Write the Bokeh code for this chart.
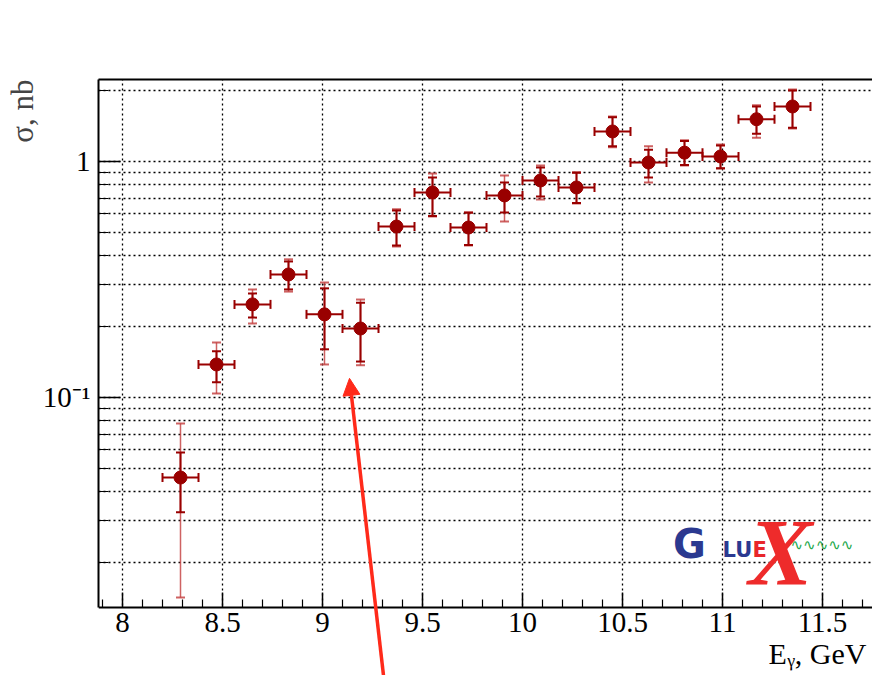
from bokeh.plotting import figure
from bokeh.models import (ColumnDataSource, Whisker, TeeHead, FixedTicker, LinearAxis,
                          Title, Arrow, NormalHead, Label, Range1d, BoxAnnotation)
from bokeh.embed import file_html
from bokeh.resources import INLINE

# ---------------- data ----------------
energy = [8.29, 8.47, 8.65, 8.83, 9.01, 9.19, 9.37, 9.55, 9.73, 9.91,
          10.09, 10.27, 10.45, 10.63, 10.81, 10.99, 11.17, 11.35]
sigma = [0.0458, 0.138, 0.248, 0.332, 0.225, 0.196, 0.530, 0.739, 0.525, 0.718,
         0.831, 0.776, 1.34, 0.99, 1.09, 1.05, 1.51, 1.71]
stat_hi = [0.0585, 0.157, 0.276, 0.377, 0.290, 0.252, 0.620, 0.856, 0.606, 0.815,
           0.943, 0.895, 1.54, 1.12, 1.22, 1.17, 1.71, 2.00]
stat_lo = [0.0326, 0.116, 0.218, 0.287, 0.160, 0.142, 0.440, 0.588, 0.443, 0.608,
           0.711, 0.667, 1.16, 0.856, 0.965, 0.937, 1.31, 1.39]
tot_hi = [0.0776, 0.171, 0.287, 0.385, 0.307, 0.260, 0.628, 0.889, 0.610, 0.872,
          0.962, 0.900, 1.55, 1.16, 1.23, 1.18, 1.73, 2.02]
tot_lo = [0.0142, 0.104, 0.206, 0.281, 0.138, 0.137, 0.436, 0.585, 0.441, 0.557,
          0.690, 0.664, 1.15, 0.815, 0.962, 0.934, 1.26, 1.38]
half_bin = [0.09] * len(energy)

x_tick_values = [8, 8.5, 9, 9.5, 10, 10.5, 11, 11.5]
x_tick_labels = ["8", "8.5", "9", "9.5", "10", "10.5", "11", "11.5"]
x_minor_ticks = [7.9, 8.1, 8.2, 8.3, 8.4, 8.6, 8.7, 8.8, 8.9, 9.1, 9.2, 9.3, 9.4,
                 9.6, 9.7, 9.8, 9.9, 10.1, 10.2, 10.3, 10.4, 10.6, 10.7, 10.8, 10.9,
                 11.1, 11.2, 11.3, 11.4, 11.6, 11.7]
y_tick_values = [0.1, 1]
y_tick_labels = ["10\u207b\u00b9", "1"]
y_minor_ticks = [0.02, 0.03, 0.04, 0.05, 0.06, 0.07, 0.08, 0.09,
                 0.2, 0.3, 0.4, 0.5, 0.6, 0.7, 0.8, 0.9, 2]

# visible axis window
X_MIN, X_MAX = 7.88, 11.75
Y_MIN, Y_MAX = 0.01289, 2.225
Y_CANVAS_BOTTOM = 0.006637   # frame continues below the x axis so the arrow can reach the edge

# annotation arrow (data coordinates)
arrow_tail = (9.305, 0.00664)
arrow_tip = (9.135, 0.1205)

# ---------------- figure ----------------
FONT = "Liberation Serif"
DARK = "#990000"
LIGHT = "#c23b3b"

p = figure(width=872, height=675, output_backend="svg", toolbar_location=None,
           y_axis_type="log", x_range=Range1d(X_MIN, X_MAX),
           y_range=Range1d(Y_CANVAS_BOTTOM, Y_MAX),
           title=None, min_border_left=98, min_border_right=0, min_border_top=79,
           min_border_bottom=0)
p.outline_line_color = None
p.background_fill_color = "white"
p.border_fill_color = "white"

# axes
xa = p.xaxis[0]
xa.fixed_location = Y_MIN
xa.ticker = FixedTicker(ticks=x_tick_values, minor_ticks=x_minor_ticks)
xa.major_label_overrides = {v: l for v, l in zip(x_tick_values, x_tick_labels)}
ya = p.yaxis[0]
ya.ticker = FixedTicker(ticks=y_tick_values, minor_ticks=y_minor_ticks)
ya.major_label_overrides = {v: l for v, l in zip(y_tick_values, y_tick_labels)}
ya.bounds = (Y_MIN, Y_MAX)

for ax in (xa, ya):
    ax.axis_line_color = "black"
    ax.axis_line_width = 2
    ax.major_tick_line_color = "black"
    ax.major_tick_line_width = 1.5
    ax.minor_tick_line_color = "black"
    ax.minor_tick_line_width = 1.2
    ax.major_tick_out = 0
    ax.minor_tick_out = 0
    ax.major_label_text_font = FONT
    ax.major_label_text_font_size = "29px"
    ax.major_label_text_color = "black"
xa.major_tick_in = 15
xa.minor_tick_in = 8
xa.major_label_standoff = 6
ya.major_tick_in = 22
ya.minor_tick_in = 10
ya.major_label_standoff = 8

top = LinearAxis(ticker=FixedTicker(ticks=[]), major_tick_in=0, major_tick_out=0,
                 minor_tick_in=0, minor_tick_out=0, major_label_text_font_size="0px",
                 major_label_standoff=0, axis_line_width=2, axis_line_color="black")
p.add_layout(top, "above")

# grid
p.xgrid.ticker = FixedTicker(ticks=x_tick_values)
p.ygrid.ticker = FixedTicker(ticks=y_tick_values, minor_ticks=y_minor_ticks)
for g in (p.xgrid[0], p.ygrid[0]):
    g.grid_line_color = "black"
    g.grid_line_dash = "2 3"
    g.grid_line_width = 1.3
p.ygrid.minor_grid_line_color = "black"
p.ygrid.minor_grid_line_dash = "2 3"
p.ygrid.minor_grid_line_width = 1.3

# blank area under the x axis (covers the grid there)
p.add_layout(BoxAnnotation(top=Y_MIN, fill_color="white", fill_alpha=1.0,
                           line_alpha=0, level="underlay"))

# titles
p.add_layout(Title(text="\u03c3, nb", align="right", text_font=FONT, text_font_size="31px",
                   text_font_style="normal", standoff=0, offset=0), "left")
p.add_layout(Label(x=11.72, y=0.00823, text="E\u1d67, GeV", text_align="right",
                   text_baseline="alphabetic", text_font=FONT, text_font_size="30px",
                   text_color="black"))

# data
src = ColumnDataSource(dict(
    x=energy, y=sigma, shi=stat_hi, slo=stat_lo, thi=tot_hi, tlo=tot_lo,
    xl=[e - h for e, h in zip(energy, half_bin)],
    xh=[e + h for e, h in zip(energy, half_bin)]))

tot = Whisker(source=src, base="x", upper="thi", lower="tlo", level="underlay",
              line_color=LIGHT, line_width=1.5, line_alpha=0.8,
              upper_head=TeeHead(size=9, line_color=LIGHT, line_width=2, line_alpha=0.8),
              lower_head=TeeHead(size=9, line_color=LIGHT, line_width=2, line_alpha=0.8))
stat = Whisker(source=src, base="x", upper="shi", lower="slo", level="underlay",
               line_color=DARK, line_width=2,
               upper_head=TeeHead(size=9, line_color=DARK, line_width=2),
               lower_head=TeeHead(size=9, line_color=DARK, line_width=2))
horiz = Whisker(source=src, base="y", upper="xh", lower="xl", dimension="width",
                level="underlay", line_color=DARK, line_width=2,
                upper_head=TeeHead(size=9, line_color=DARK, line_width=2),
                lower_head=TeeHead(size=9, line_color=DARK, line_width=2))
p.add_layout(tot)
p.add_layout(stat)
p.add_layout(horiz)
p.scatter("x", "y", source=src, size=13, marker="circle", fill_color=DARK, line_color=DARK)

# arrow
p.add_layout(Arrow(x_start=arrow_tail[0], y_start=arrow_tail[1], x_end=arrow_tip[0],
                   y_end=arrow_tip[1], line_color="#ff2a1a", line_width=3.5,
                   end=NormalHead(size=17, fill_color="#ff2a1a", line_color="#ff2a1a")))

# GlueX logo
p.add_layout(Label(x=10.752, y=0.02383, text="G", text_font="DejaVu Sans", text_font_size="40px",
                   text_font_style="bold", text_color="#2b3990", text_baseline="alphabetic"))
p.add_layout(Label(x=11.0, y=0.02248, text="LU", text_font="DejaVu Sans", text_font_size="21px",
                   text_font_style="bold", text_color="#2b3990", text_baseline="alphabetic"))
p.add_layout(Label(x=11.13, y=0.02204, text="X", text_font="Liberation Serif", text_font_size="96px",
                   text_font_style="bold italic", text_color="#ee2b2b", text_baseline="alphabetic"))
p.add_layout(Label(x=11.15, y=0.02248, text="E", text_font="DejaVu Sans", text_font_size="21px",
                   text_font_style="bold", text_color="#e8262b", text_baseline="alphabetic"))
p.add_layout(Label(x=11.34, y=0.0238, text="\u223f\u223f\u223f\u223f\u223f", text_font="DejaVu Sans",
                   text_font_size="15px", text_color="#22a84a", text_baseline="middle"))

open("out.html", "w").write(file_html(p, INLINE))
